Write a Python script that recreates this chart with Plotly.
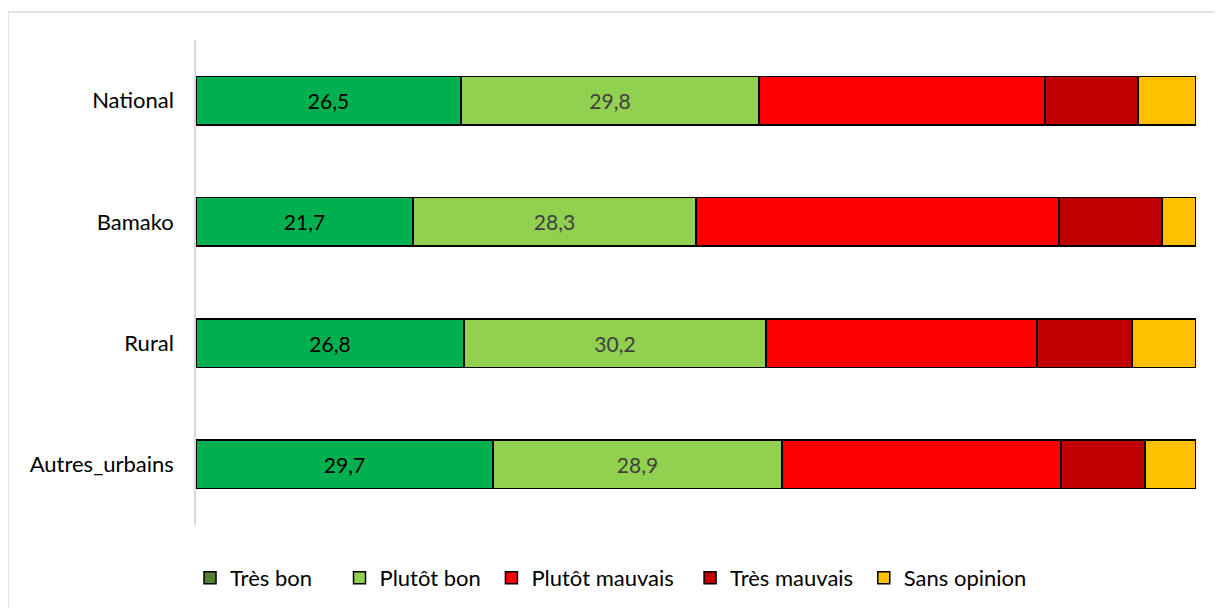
import plotly.graph_objects as go

categories = ["National", "Bamako", "Rural", "Autres_urbains"]
series_names = ["Très bon", "Plutôt bon", "Plutôt mauvais", "Très mauvais", "Sans opinion"]
tres_bon = [26.5, 21.7, 26.8, 29.7]
plutot_bon = [29.8, 28.3, 30.2, 28.9]
plutot_mauvais = [28.6, 36.3, 27.1, 27.9]
tres_mauvais = [9.3, 10.3, 9.5, 8.4]
sans_opinion = [5.8, 3.4, 6.4, 5.1]

values = [tres_bon, plutot_bon, plutot_mauvais, tres_mauvais, sans_opinion]
bar_colors = ["#00B050", "#92D050", "#FF0000", "#C00000", "#FFC000"]
legend_colors = ["#548235", "#92D050", "#FF0000", "#C00000", "#FFC000"]
legend_pad = [4, 1, 2, 1, 0]
show_text = [True, True, False, False, False]
text_colors = ["#000000", "#404040", "#000000", "#000000", "#000000"]

FONT = "Lato, Carlito, 'Open Sans', sans-serif"

fig = go.Figure()
for name, vals, col, st, tc in zip(series_names, values, bar_colors, show_text, text_colors):
    fig.add_trace(go.Bar(
        y=categories, x=vals, orientation="h", name=name,
        marker=dict(color=col, line=dict(color="#000000", width=1.5)),
        text=[f"{v:.1f}".replace(".", ",") for v in vals] if st else None,
        textposition="inside" if st else "none",
        insidetextanchor="middle",
        textangle=0,
        textfont=dict(color=tc, size=21, family=FONT),
        showlegend=False,
        hoverinfo="x+y+name",
    ))

for name, col, pad in zip(series_names, legend_colors, legend_pad):
    fig.add_trace(go.Bar(
        y=[None], x=[None], orientation="h", name=name + "\u00a0" * pad,
        marker=dict(color=col, line=dict(color="#000000", width=1.5)),
        showlegend=True,
    ))

fig.update_layout(
    width=1215, height=620,
    barmode="stack", bargap=0.6,
    plot_bgcolor="white", paper_bgcolor="white",
    margin=dict(l=188, r=27, t=32, b=103),
    font=dict(family=FONT, size=22, color="#000000"),
    xaxis=dict(range=[0, 100], showgrid=False, showticklabels=False, zeroline=False,
               showline=False, ticks=""),
    yaxis=dict(categoryorder="array", categoryarray=categories[::-1],
               showline=True, linecolor="#D9D9D9", linewidth=1.5,
               showgrid=False, ticks="", ticklabelstandoff=16,
               tickfont=dict(size=22, family=FONT, color="#000000")),
    legend=dict(orientation="h", x=-0.006, xanchor="left", y=-0.109, yanchor="middle",
                font=dict(size=22, family=FONT, color="#000000"),
                itemwidth=30, tracegroupgap=0, traceorder="normal"),
    shapes=[dict(type="rect", xref="paper", yref="paper",
                 x0=-0.188, x1=1.2, y0=-0.5, y1=1.0577,
                 line=dict(color="#D9D9D9", width=1.5), fillcolor="rgba(0,0,0,0)",
                 layer="below")],
)

fig.write_html("out.html")
